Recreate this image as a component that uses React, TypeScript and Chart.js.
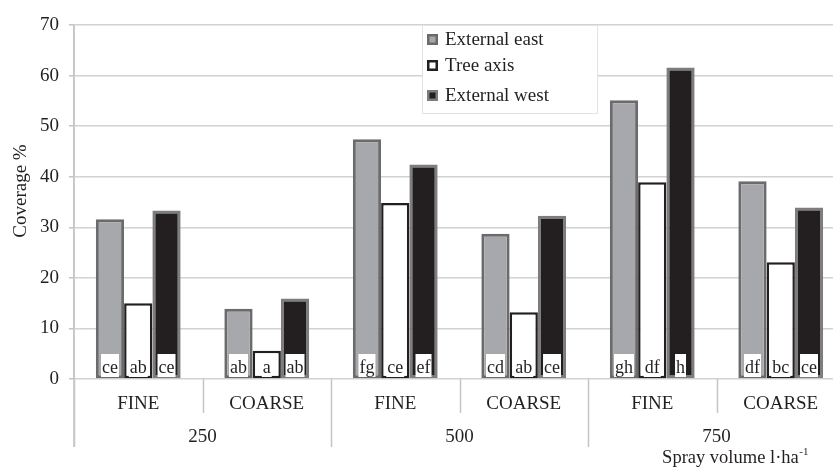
import { useEffect, useRef } from 'react';
import { Chart, registerables } from 'chart.js';

Chart.register(...registerables);

// Droplet size classes for each spray volume
const categories = ['FINE', 'COARSE', 'FINE', 'COARSE', 'FINE', 'COARSE'];
const volumeGroups = ['250', '500', '750'];
const seriesNames = ['External east', 'Tree axis', 'External west'];

// Coverage (%) per canopy position
const externalEast = [31.6, 13.9, 47.4, 28.7, 55.1, 39.1];
const treeAxis = [15.0, 5.6, 34.8, 13.2, 38.9, 23.1];
const externalWest = [33.3, 15.9, 42.4, 32.3, 61.6, 33.9];

// Significance letters shown at the foot of each bar
const eastLetters = ['ce', 'ab', 'fg', 'cd', 'gh', 'df'];
const axisLetters = ['ab', 'a', 'ce', 'ab', 'df', 'bc'];
const westLetters = ['ce', 'ab', 'ef', 'ce', 'h', 'ce'];

const yMin = 0;
const yMax = 70;
const yStep = 10;
const yAxisTitle = 'Coverage %';
const xAxisTitle = 'Spray volume l·ha';
const xAxisTitleSup = '-1';

const SERIF = "'Liberation Serif', 'Times New Roman', serif";
const INK = '#231f20';
const GRID = '#d2d2d2';
const SEP = '#c4c4c4';

const fills = ['#a7a8ab', '#ffffff', '#231f20'];
const borders = ['#6b6b6d', '#231f20', '#7d7d7d'];

const decorations = {
  id: 'decorations',
  afterDatasetsDraw(chart: any) {
    const ctx = chart.ctx;
    const letterSets = [eastLetters, axisLetters, westLetters];
    const yScale = chart.scales.y;
    const base = yScale.getPixelForValue(0);
    ctx.save();
    ctx.font = `18px ${SERIF}`;
    ctx.textAlign = 'center';
    ctx.textBaseline = 'alphabetic';
    chart.data.datasets.forEach((_ds: any, di: number) => {
      const meta = chart.getDatasetMeta(di);
      meta.data.forEach((el: any, i: number) => {
        const txt = letterSets[di][i];
        const w = ctx.measureText(txt).width + 2;
        const h = 23;
        ctx.fillStyle = '#ffffff';
        ctx.fillRect(el.x - w / 2, base - 2 - h, w, h);
        ctx.fillStyle = INK;
        ctx.fillText(txt, el.x, base - 6);
      });
    });
    ctx.restore();
  },
  afterDraw(chart: any) {
    const ctx = chart.ctx;
    const xScale = chart.scales.x;
    const area = chart.chartArea;
    const base = area.bottom;
    const n = categories.length;
    const edge = (i: number) =>
      i === 0
        ? area.left
        : i === n
        ? area.right
        : (xScale.getPixelForValue(i - 1) + xScale.getPixelForValue(i)) / 2;

    ctx.save();
    // separators below the axis
    ctx.strokeStyle = SEP;
    ctx.lineWidth = 1.5;
    for (let i = 0; i <= n; i++) {
      const long = i % 2 === 0;
      const x = Math.round(edge(i)) + 0.5;
      ctx.beginPath();
      ctx.moveTo(x, base);
      ctx.lineTo(x, base + (long ? 68 : 34));
      ctx.stroke();
    }

    // category and volume labels
    ctx.fillStyle = INK;
    ctx.textAlign = 'center';
    ctx.textBaseline = 'middle';
    ctx.font = `19px ${SERIF}`;
    categories.forEach((c, i) => {
      ctx.fillText(c, xScale.getPixelForValue(i), base + 25);
    });
    volumeGroups.forEach((g, gi) => {
      const x = (edge(gi * 2) + edge(gi * 2 + 2)) / 2;
      ctx.fillText(g, x, base + 58);
    });

    // x-axis title with superscript
    ctx.font = `18.5px ${SERIF}`;
    ctx.textAlign = 'left';
    const mainW = ctx.measureText(xAxisTitle).width;
    ctx.font = `11px ${SERIF}`;
    const supW = ctx.measureText(xAxisTitleSup).width;
    const tx = 735 - (mainW + supW) / 2;
    ctx.font = `18.5px ${SERIF}`;
    ctx.fillText(xAxisTitle, tx, base + 79);
    ctx.font = `11px ${SERIF}`;
    ctx.fillText(xAxisTitleSup, tx + mainW + 0.5, base + 73);

    // y-axis title
    ctx.save();
    ctx.translate(21, 191);
    ctx.rotate(-Math.PI / 2);
    ctx.textAlign = 'center';
    ctx.font = `19px ${SERIF}`;
    ctx.fillText(yAxisTitle, 0, 0);
    ctx.restore();

    // legend
    const lx = 422;
    const ly = area.top;
    const lw = 175;
    const lh = 88;
    ctx.fillStyle = '#ffffff';
    ctx.fillRect(lx, ly, lw, lh);
    ctx.strokeStyle = '#e3e3e3';
    ctx.lineWidth = 1;
    ctx.strokeRect(lx + 0.5, ly + 0.5, lw, lh);
    const rows = [14, 40, 70];
    ctx.font = `19px ${SERIF}`;
    ctx.textAlign = 'left';
    ctx.textBaseline = 'middle';
    seriesNames.forEach((name, i) => {
      const cy = ly + rows[i];
      ctx.fillStyle = borders[i];
      ctx.fillRect(lx + 5, cy - 5, 11, 11);
      ctx.fillStyle = fills[i];
      ctx.fillRect(lx + 7.5, cy - 2.5, 6, 6);
      ctx.fillStyle = INK;
      ctx.fillText(name, lx + 23, cy + 1);
    });
    ctx.restore();
  },
};

export default function App() {
  const ref = useRef<HTMLCanvasElement | null>(null);

  useEffect(() => {
    if (!ref.current) return;
    const series = [externalEast, treeAxis, externalWest];
    const chart = new Chart(ref.current, {
      type: 'bar',
      data: {
        labels: categories,
        datasets: series.map((values, i) => ({
          label: seriesNames[i],
          data: values,
          backgroundColor: fills[i],
          borderColor: borders[i],
          borderWidth: i === 1 ? 2.5 : 3,
          borderSkipped: false,
          barPercentage: 1,
          categoryPercentage: 0.66,
        })),
      },
      options: {
        animation: false,
        responsive: false,
        layout: { padding: { top: 25, right: 15, bottom: 0, left: 0 } },
        plugins: {
          legend: { display: false },
          tooltip: { enabled: false },
        },
        scales: {
          x: {
            ticks: { display: false },
            grid: { display: false },
            border: { display: false },
            afterFit: (scale: any) => {
              scale.height = 88;
            },
          },
          y: {
            min: yMin,
            max: yMax,
            ticks: {
              stepSize: yStep,
              padding: 10,
              color: INK,
              font: { family: SERIF, size: 19 },
            },
            grid: { color: GRID, lineWidth: 1.5, tickLength: 5, tickColor: SEP },
            border: { display: true, color: SEP, width: 1.5 },
            afterFit: (scale: any) => {
              scale.width = 74;
            },
          },
        },
      },
      plugins: [
        decorations,
        {
          id: 'axisExtension',
          afterDraw(c: any) {
            const ctx = c.ctx;
            const a = c.chartArea;
            ctx.save();
            ctx.strokeStyle = SEP;
            ctx.lineWidth = 1.5;
            ctx.beginPath();
            ctx.moveTo(a.left, a.top);
            ctx.lineTo(a.left, a.bottom + 68);
            ctx.stroke();
            ctx.restore();
          },
        },
      ],
    });
    return () => chart.destroy();
  }, []);

  return (
    <div
      style={{
        position: 'fixed',
        left: 0,
        top: 0,
        width: 833,
        height: 467,
        overflow: 'hidden',
        background: '#ffffff',
      }}
    >
      <canvas ref={ref} width={860} height={467} style={{ display: 'block' }} />
    </div>
  );
}
